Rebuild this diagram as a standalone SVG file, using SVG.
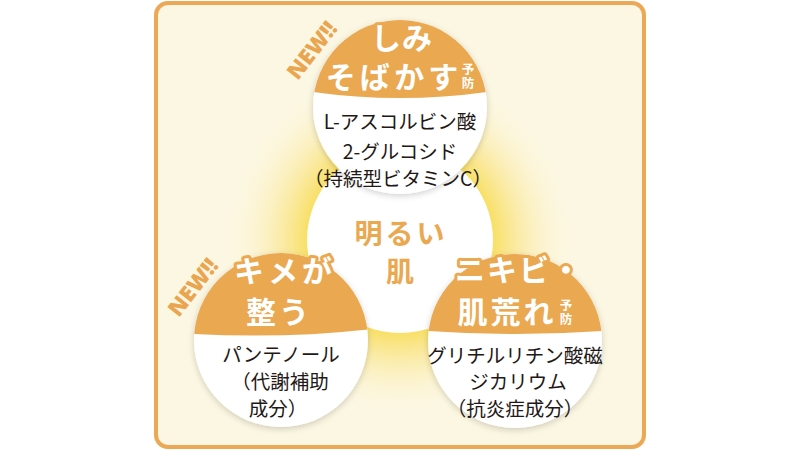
<svg xmlns="http://www.w3.org/2000/svg" width="800" height="450" viewBox="0 0 800 450">
<style>
.t{font-family:"Noto Sans CJK JP","Noto Sans",sans-serif;font-weight:700;fill:#fff;text-anchor:middle;font-size:30px;stroke:#EAA851;stroke-width:6px;stroke-linejoin:round;paint-order:stroke}
.c{font-family:"Noto Sans CJK JP","Noto Sans",sans-serif;font-weight:700;fill:#EAA851;text-anchor:middle;font-size:28px}
.b{font-family:"Noto Sans CJK JP","Noto Sans",sans-serif;font-weight:400;fill:#231815;text-anchor:middle;font-size:19.5px}
.s{font-family:"Noto Sans CJK JP","Noto Sans",sans-serif;font-weight:700;fill:#fff;font-size:12.5px;writing-mode:vertical-rl;letter-spacing:1px;stroke:#EAA851;stroke-width:3px;paint-order:stroke}
.n{font-family:"Noto Sans","Liberation Sans",sans-serif;font-weight:900;fill:#EAA550;font-size:22px;text-anchor:middle}
.o{fill:#EAA851}
</style>
<defs>
<radialGradient id="glow" cx="400" cy="240" r="175" gradientUnits="userSpaceOnUse">
<stop offset="0.5" stop-color="#F8DC55"/>
<stop offset="0.7" stop-color="#FAE68C" stop-opacity="0.6"/>
<stop offset="1" stop-color="#FCF7E2" stop-opacity="0"/>
</radialGradient>
<filter id="sh" x="-20%" y="-20%" width="140%" height="140%">
<feDropShadow dx="0" dy="2" stdDeviation="3" flood-color="#000" flood-opacity="0.18"/>
</filter>
<clipPath id="c1"><circle cx="400" cy="107" r="87"/></clipPath>
<clipPath id="c2"><circle cx="281" cy="340" r="87"/></clipPath>
<clipPath id="c3"><circle cx="515" cy="341" r="87"/></clipPath>
</defs>
<rect x="156" y="3" width="488" height="444" rx="12" fill="#FCF7E2" stroke="#EBA955" stroke-width="4"/>
<circle cx="400" cy="240" r="175" fill="url(#glow)"/>
<g id="center">
<circle cx="400" cy="240" r="93" fill="#fff"/>
<text class="c"><tspan x="401" y="244" letter-spacing="3">明るい</tspan><tspan x="400" y="282">肌</tspan></text>
</g>
<g id="node-top">
<circle cx="400" cy="107" r="87" fill="#fff" filter="url(#sh)"/>
<path class="o" clip-path="url(#c1)" d="M300,90 Q400,106 500,90 V10 H300 Z"/>
<text class="t"><tspan x="402" y="49" letter-spacing="1">しみ</tspan><tspan x="394" y="88" letter-spacing="4">そばかす</tspan></text>
<text class="s" x="468" y="63">予防</text>
<text class="b"><tspan x="400" y="129">L-アスコルビン酸</tspan><tspan x="400" y="159">2-グルコシド</tspan><tspan x="398" y="186">（持続型ビタミンC）</tspan></text>
<text class="n" transform="translate(318,55) rotate(-52)">NEW!!</text>
</g>
<g id="node-left">
<circle cx="281" cy="340" r="87" fill="#fff" filter="url(#sh)"/>
<path class="o" clip-path="url(#c2)" d="M180,333 Q281,340 380,328 V240 H180 Z"/>
<text class="t"><tspan x="285" y="282" letter-spacing="4">キメが</tspan><tspan x="279" y="323" letter-spacing="3">整う</tspan></text>
<text class="b"><tspan x="281" y="362">パンテノール</tspan><tspan x="280" y="389">（代謝補助</tspan><tspan x="278" y="416">成分）</tspan></text>
<text class="n" transform="translate(199,292) rotate(-52)">NEW!!</text>
</g>
<g id="node-right">
<circle cx="515" cy="341" r="87" fill="#fff" filter="url(#sh)"/>
<path class="o" clip-path="url(#c3)" d="M415,330 Q515,338 615,330 V240 H415 Z"/>
<text class="t"><tspan x="519" y="281" letter-spacing="2">ニキビ・</tspan><tspan x="507" y="323" letter-spacing="3">肌荒れ</tspan></text>
<text class="s" x="566" y="299">予防</text>
<text class="b"><tspan x="515" y="363">グリチルリチン酸磁</tspan><tspan x="518" y="389">ジカリウム</tspan><tspan x="515" y="416">（抗炎症成分）</tspan></text>
</g>
<g id="connectors"/>
</svg>
